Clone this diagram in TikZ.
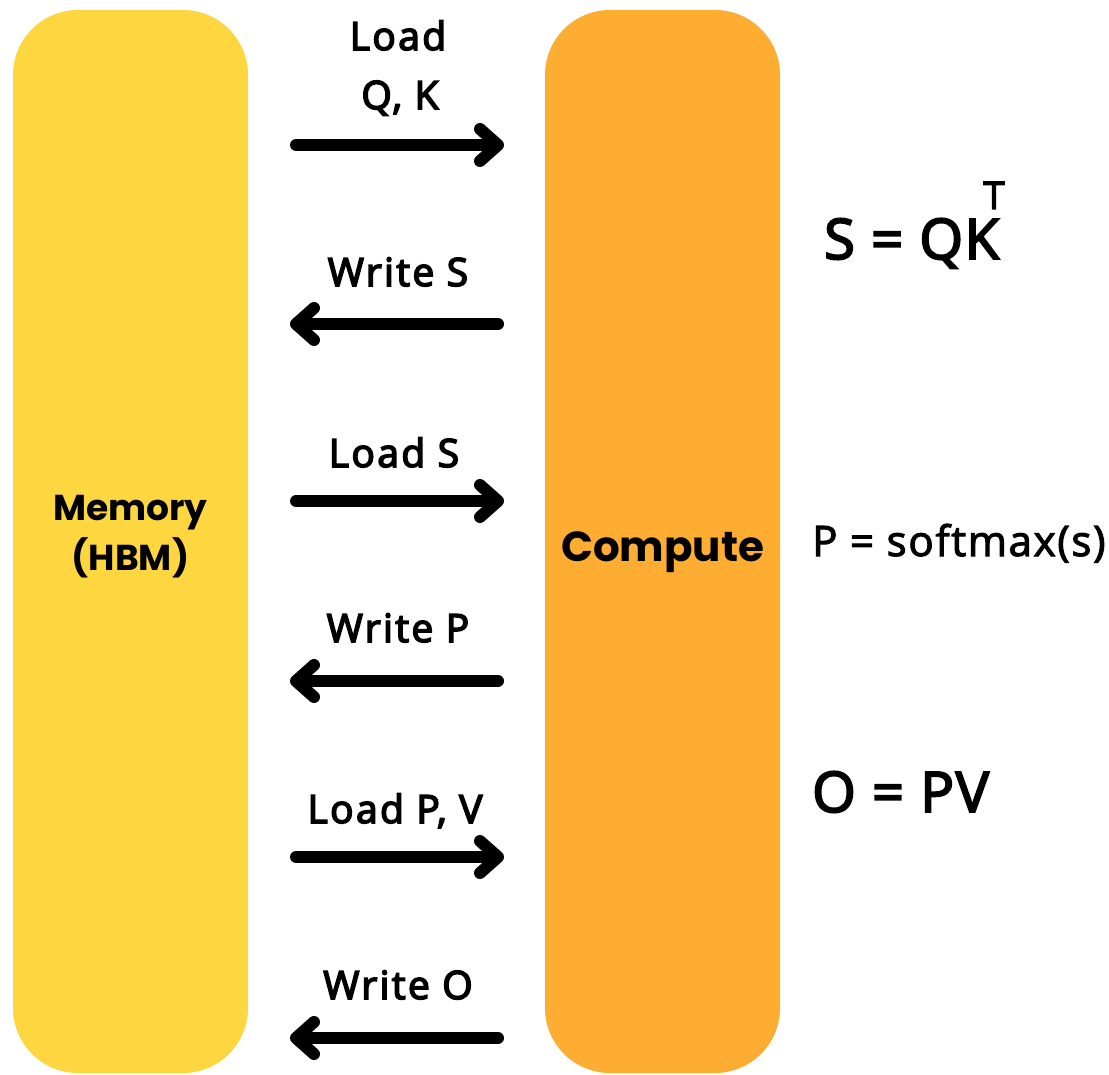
\documentclass[tikz,border=0pt]{standalone}
\usepackage{fontspec}
\setmainfont{Open Sans}
\newfontfamily\labfont[FakeBold=4,LetterSpace=6]{Open Sans}
\newfontfamily\frmfont[FakeBold=3.5,LetterSpace=3]{Open Sans}
\newfontfamily\smfont[FakeBold=2.5,LetterSpace=4]{Open Sans}
\newfontfamily\popfont{Poppins}
\usetikzlibrary{arrows.meta}
\definecolor{memcol}{HTML}{FED640}
\definecolor{compcol}{HTML}{FDAD32}
\begin{document}
\begin{tikzpicture}[x=1pt,y=-1pt,
  block/.style={rectangle, rounded corners=65pt, minimum width=235pt,
    minimum height=1063pt, inner sep=0pt, draw=none},
  boxtext/.style={inner sep=0pt, align=center},
  flow/.style={line width=12pt, line cap=round,
    -{Straight Barb[length=18pt,width=32pt,round]}},
  lbl/.style={anchor=base, inner sep=0pt, align=center,
    font=\labfont\fontsize{39}{60}\selectfont},
  formula/.style={anchor=base west, inner sep=0pt}
]
\useasboundingbox (0,0) rectangle (1109,1075);
\fill[white] (0,0) rectangle (1109,1075);

\node[block, fill=memcol] (mem) at (130.5,541.5) {};
\node[block, fill=compcol] (comp) at (662.5,541.5) {};
\node[boxtext, font=\popfont\bfseries\fontsize{36}{50}\selectfont]
  (memtxt) at ([yshift=5pt]mem.center) {Memory\\(HBM)};
\node[boxtext, anchor=base, font=\popfont\bfseries\fontsize{42}{50}\selectfont]
  (comptxt) at (662.5,561) {Compute};

% arrow end points
\coordinate (a1l) at (296,145);  \coordinate (a1r) at (504,145);
\coordinate (a2l) at (290,324);  \coordinate (a2r) at (498,324);
\coordinate (a3l) at (296,501);  \coordinate (a3r) at (504,501);
\coordinate (a4l) at (290,681);  \coordinate (a4r) at (498,681);
\coordinate (a5l) at (296,857);  \coordinate (a5r) at (504,857);
\coordinate (a6l) at (290,1038); \coordinate (a6r) at (498,1038);

\draw[flow] (a1l) -- (a1r);
\draw[flow] (a2r) -- (a2l);
\draw[flow] (a3l) -- (a3r);
\draw[flow] (a4r) -- (a4l);
\draw[flow] (a5l) -- (a5r);
\draw[flow] (a6r) -- (a6l);

\node[lbl] (t1a) at (398,50) {Load};
\node[lbl] (t1b) at (400,109) {Q, K};
\node[lbl] (t2) at (398,286) {Write S};
\node[lbl] (t3) at (394,467) {Load S};
\node[lbl] (t4) at (398,642) {Write P};
\node[lbl] (t5) at (395,823) {Load P, V};
\node[lbl] (t6) at (398,999) {Write O};

\node[formula, font=\frmfont\fontsize{56}{60}\selectfont] (f1) at (824,259) {S = QK};
\node[anchor=base, inner sep=0pt, font=\frmfont\fontsize{38}{40}\selectfont] (f1t) at (994,209) {T};
\node[formula, font=\smfont\fontsize{42}{50}\selectfont] (f2) at (812,556) {P = softmax(s)};
\node[formula, font=\frmfont\fontsize{56}{60}\selectfont] (f3) at (812,812) {O = PV};
\end{tikzpicture}
\end{document}
